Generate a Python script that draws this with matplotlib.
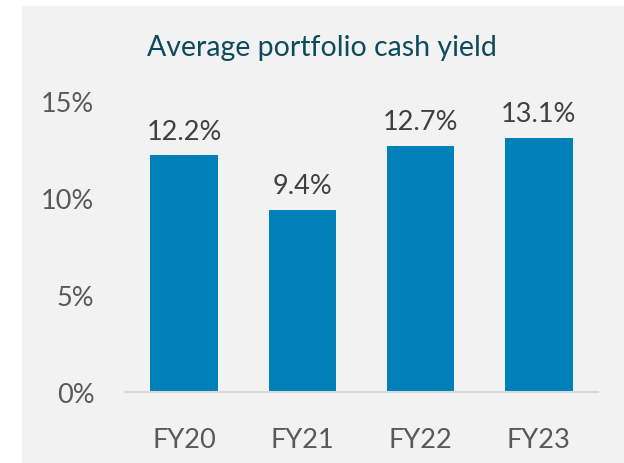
import matplotlib
matplotlib.use("Agg")
import matplotlib.pyplot as plt
from matplotlib.patches import Rectangle

# Chart data
years = ["FY20", "FY21", "FY22", "FY23"]
cash_yield = [12.2, 9.4, 12.7, 13.1]
y_ticks = [0, 5, 10, 15]

plt.rcParams["font.family"] = ["Lato", "DejaVu Sans"]

fig = plt.figure(figsize=(6.24, 4.64), dpi=100)
fig.patch.set_facecolor("white")
# gray panel behind the chart
fig.patches.append(Rectangle((22 / 624, 0), 1, 1 - 7 / 464, transform=fig.transFigure,
                             facecolor="#f2f2f2", edgecolor="none", zorder=-10))

ax = fig.add_axes([0.2003, 0.153, 0.758, 0.627])
ax.set_zorder(5)
ax.set_facecolor("none")

bars = ax.bar(range(len(years)), cash_yield, width=0.57, color="#0080b8", zorder=2)
for b, v in zip(bars, cash_yield):
    ax.text(b.get_x() + b.get_width() / 2, v + 0.6, f"{v:.1f}%", ha="center", va="bottom",
            fontsize=19.5, color="#404040")

ax.set_xlim(-0.5, 3.5)
ax.set_ylim(0, 15)
ax.set_yticks(y_ticks)
ax.set_yticklabels([f"{t}%" for t in y_ticks])
ax.set_xticks(range(len(years)))
ax.set_xticklabels(years)
ax.tick_params(axis="both", length=0, labelsize=19.5, labelcolor="#595959")
ax.tick_params(axis="y", pad=22)
ax.tick_params(axis="x", pad=25)

for s in ["top", "right", "left"]:
    ax.spines[s].set_visible(False)
ax.spines["bottom"].set_color("#d9d9d9")
ax.spines["bottom"].set_linewidth(1.5)

fig.text(0.516, 1 - 48 / 464, "Average portfolio cash yield", ha="center", va="center",
         fontsize=20.5, color="#0d4a5c", zorder=6)

fig.savefig("out.png", dpi=100)
